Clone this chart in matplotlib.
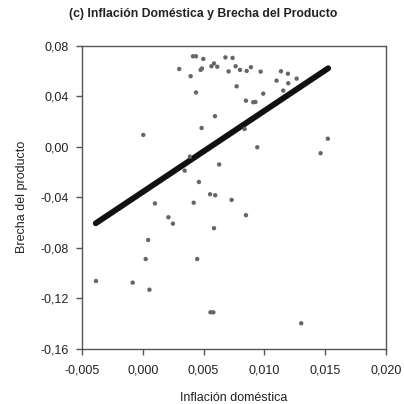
import matplotlib
matplotlib.use("Agg")
import matplotlib.pyplot as plt
from matplotlib.ticker import FuncFormatter

plt.rcParams['font.family'] = ['Liberation Sans', 'DejaVu Sans']

# Scatter data: domestic inflation (x) vs output gap (y)
inflacion = [0.00413, 0.00438, 0.00498, 0.00680, 0.00739, 0.00300, 0.00394, 0.00476,
             0.00487, 0.00565, 0.00586, 0.00613, 0.00706, 0.00764, 0.00800, 0.00855,
             0.00890, 0.00970, 0.01137, 0.01194, 0.01266, 0.01101, 0.01197, 0.01156,
             0.00438, 0.00772, 0.00991, 0.00849, 0.00909, 0.00927, 0.00594, 0.00484,
             0.00004, 0.00838, 0.00942, 0.01523, 0.01463, 0.00388, 0.00345, 0.00629,
             0.00462, 0.00554, 0.00596, 0.00731, 0.00100, 0.00419, 0.00211, 0.00248,
             0.00849, 0.00586, 0.00044, 0.00024, 0.00448, -0.00385, -0.00083, 0.00055,
             0.00557, 0.00581, 0.01304]
brecha = [0.0716, 0.0716, 0.0695, 0.0707, 0.0703, 0.0615, 0.0558, 0.0608,
          0.0619, 0.0637, 0.0659, 0.0633, 0.0596, 0.0637, 0.0608, 0.0600,
          0.0629, 0.0594, 0.0597, 0.0578, 0.0539, 0.0523, 0.0502, 0.0444,
          0.0429, 0.0478, 0.0420, 0.0364, 0.0352, 0.0354, 0.0241, 0.0148,
          0.0093, 0.0140, -0.0005, 0.0063, -0.0052, -0.0079, -0.0190, -0.0141,
          -0.0280, -0.0377, -0.0385, -0.0422, -0.0450, -0.0444, -0.0559, -0.0610,
          -0.0543, -0.0646, -0.0739, -0.0890, -0.0890, -0.1064, -0.1077, -0.1133,
          -0.1312, -0.1312, -0.1399]

# Fitted line endpoints
ajuste_x = [-0.00387, 0.01526]
ajuste_y = [-0.0607, 0.0621]

x_ticks = [-0.005, 0.000, 0.005, 0.010, 0.015, 0.020]
y_ticks = [-0.16, -0.12, -0.08, -0.04, 0.00, 0.04, 0.08]

fig = plt.figure(figsize=(4.04, 4.04), dpi=100)
ax = fig.add_axes([0.203, 0.137, 0.752, 0.750])

ax.plot(ajuste_x, ajuste_y, color='#111111', lw=4.2, solid_capstyle='round', zorder=2)
ax.scatter(inflacion, brecha, s=10, color='#666666', edgecolors='none', zorder=3)

ax.set_xlim(-0.005, 0.020)
ax.set_ylim(-0.16, 0.08)
ax.set_xticks(x_ticks)
ax.set_yticks(y_ticks)
ax.xaxis.set_major_formatter(FuncFormatter(lambda v, p: f"{v:.3f}".replace('.', ',').replace('-0,000', '0,000')))
ax.yaxis.set_major_formatter(FuncFormatter(lambda v, p: f"{v:.2f}".replace('.', ',').replace('-0,00', '0,00')))

for s in ax.spines.values():
    s.set_color('#555555')
    s.set_linewidth(1.0)
ax.tick_params(direction='out', length=4.5, width=1.0, color='#555555',
               labelsize=9, labelcolor='#222222', pad=5)
ax.tick_params(axis='x', pad=7)

ax.set_xlabel('Inflación doméstica', fontsize=9, color='#222222', labelpad=11)
ax.set_ylabel('Brecha del producto', fontsize=9, color='#222222', labelpad=9)

fig.text(0.502, 0.965, '(c) Inflación Doméstica y Brecha del Producto',
         ha='center', va='center', fontsize=8.8, fontweight='bold', color='#222222')

fig.savefig('out.png', dpi=100)
